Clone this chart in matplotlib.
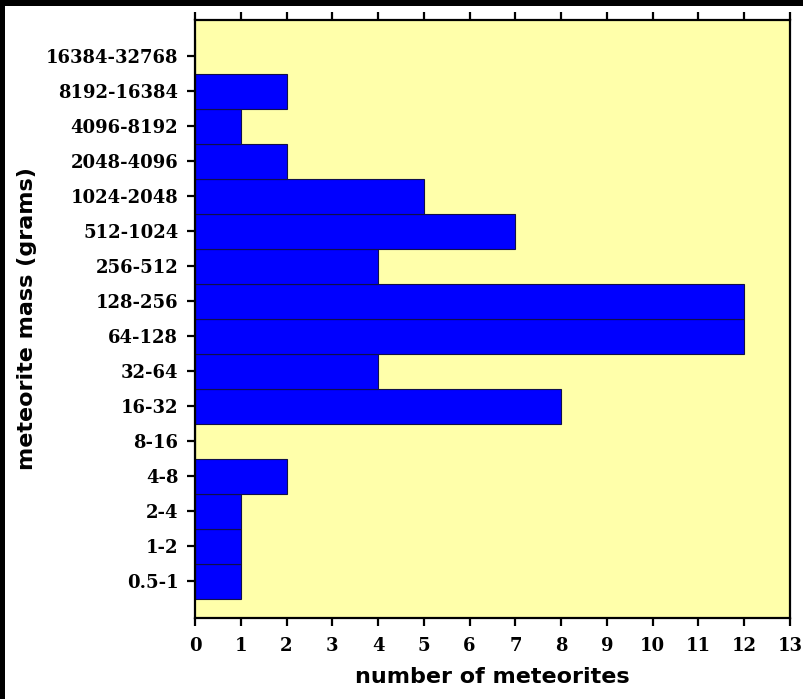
import matplotlib
matplotlib.use("Agg")
import matplotlib.pyplot as plt
from matplotlib.patches import Rectangle

categories = ["0.5-1", "1-2", "2-4", "4-8", "8-16", "16-32", "32-64", "64-128",
              "128-256", "256-512", "512-1024", "1024-2048", "2048-4096",
              "4096-8192", "8192-16384", "16384-32768"]
counts = [1, 1, 1, 2, 0, 8, 4, 12, 12, 4, 7, 5, 2, 1, 2, 0]
xticks = list(range(0, 14))

fig = plt.figure(figsize=(8.04, 6.99), dpi=100, facecolor="white")
# black border strips on left and top edges
fig.patches.append(Rectangle((0, 0), 5/804, 1, transform=fig.transFigure,
                             facecolor="black", edgecolor="none", zorder=0))
fig.patches.append(Rectangle((0, 1 - 6/699), 1, 6/699, transform=fig.transFigure,
                             facecolor="black", edgecolor="none", zorder=0))

ax = fig.add_axes([195/804, 1 - 618/699, (790 - 195)/804, (618 - 20)/699])
ax.set_facecolor("#FFFFAA")

ypos = list(range(len(categories)))
ax.barh(ypos, counts, height=1.0, color="#0000FF", edgecolor="#10104a",
        linewidth=0.8)

ax.set_xlim(0, 13)
ax.set_ylim(-1.05, len(categories) - 1 + 1.03)
ax.set_xticks(xticks)
ax.set_xticklabels([str(v) for v in xticks])
ax.set_yticks(ypos)
ax.set_yticklabels(categories)

for s in ax.spines.values():
    s.set_linewidth(1.6)
    s.set_color("black")

ax.tick_params(axis="x", which="both", direction="out", length=6, width=1.6,
               top=True, bottom=True, labeltop=False, pad=8)
ax.tick_params(axis="y", direction="out", length=6, width=1.6, right=False,
               pad=6)

tick_font = dict(family="DejaVu Serif", weight="bold", size=13)
for lab in ax.get_xticklabels() + ax.get_yticklabels():
    lab.set_fontfamily(tick_font["family"])
    lab.set_fontweight(tick_font["weight"])
    lab.set_fontsize(tick_font["size"])

ax.set_xlabel("number of meteorites", fontsize=16, fontweight="bold",
              family="DejaVu Sans", labelpad=8)
ax.set_ylabel("meteorite mass (grams)", fontsize=16, fontweight="bold",
              family="DejaVu Sans", labelpad=6)

fig.savefig("out.png", dpi=100, facecolor=fig.get_facecolor())
